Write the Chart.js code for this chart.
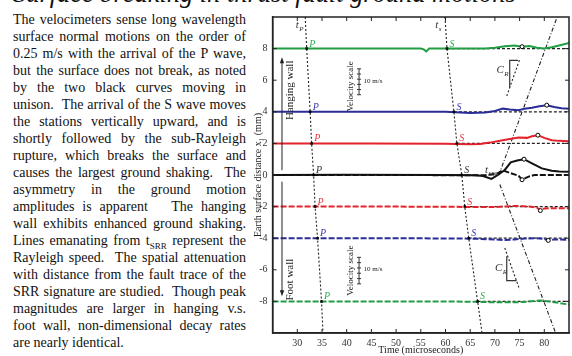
<!DOCTYPE html>
<html>
<head>
<meta charset="utf-8">
<script src="https://cdn.jsdelivr.net/npm/chart.js@4.4.0/dist/chart.umd.min.js"></script>
<style>
html, body { margin: 0; padding: 0; background: #fff; width: 572px; height: 356px; overflow: hidden; position: relative; }
#titulo { position: absolute; left: 13px; top: -19px; font-family: 'Liberation Serif', serif; font-style: italic; font-size: 27px; line-height: 27px; white-space: nowrap; color: #111; }
#texto { position: absolute; left: 13px; top: 11px; width: 233px; font-family: 'Liberation Serif', serif; font-size: 14px; line-height: 17px; color: #111; }
#texto div { height: 17px; text-align: justify; text-align-last: justify; }
#texto div.ultima { text-align-last: left; }
#texto sub { font-size: 9px; line-height: 0; }
#caixa { position: absolute; left: 250px; top: 0; width: 324px; height: 356px; }
</style>
</head>
<body>
<div id="titulo">Surface breaking in thrust fault ground motions</div>
<div id="texto">
<div>The velocimeters sense long wavelength</div>
<div>surface normal motions on the order of</div>
<div>0.25 m/s with the arrival of the P wave,</div>
<div>but the surface does not break, as noted</div>
<div>by the two black curves moving in</div>
<div>unison. &nbsp;The arrival of the S wave moves</div>
<div>the stations vertically upward, and is</div>
<div>shortly followed by the sub-Rayleigh</div>
<div>rupture, which breaks the surface and</div>
<div>causes the largest ground shaking. &nbsp;The</div>
<div>asymmetry in the ground motion</div>
<div>amplitudes is apparent &nbsp; The hanging</div>
<div>wall exhibits enhanced ground shaking.</div>
<div>Lines emanating from t<sub>SRR</sub> represent the</div>
<div>Rayleigh speed. &nbsp;The spatial attenuation</div>
<div>with distance from the fault trace of the</div>
<div>SRR signature are studied. &nbsp;Though peak</div>
<div>magnitudes are larger in hanging v.s.</div>
<div>foot wall, non-dimensional decay rates</div>
<div class="ultima">are nearly identical.</div>
</div>
<div id="caixa"><canvas id="grafico" width="324" height="356"></canvas></div>

<script>
// eixos
const ticksX = [30, 35, 40, 45, 50, 55, 60, 65, 70, 75, 80];
const ticksY = [-8, -6, -4, -2, 0, 2, 4, 6, 8];

// niveis das estacoes (mm) e chegadas das ondas P e S (microsegundos)
const niveis = [8, 4, 2, 0, -2, -4, -8];
const chegadaP = [31.9, 32.6, 32.9, 33.3, 33.6, 34.1, 34.9];
const chegadaS = [60.3, 61.7, 62.3, 63.3, 63.9, 64.7, 66.5];
const extremosP = [[31.6, 10], [35.2, -10]];
const extremosS = [[59.9, 10], [67.4, -10]];

// linhas de Rayleigh a partir de t_SRR
const rayleighSobe = [[70.8, 0], [82.6, 10]];
const rayleighDesce = [[71.0, -0.6], [82.3, -10]];
const inclinacaoSup = [[72.4, 5.0], [75.0, 7.3]];
const inclinacaoInf = [[72.0, -4.62], [75.0, -7.25]];
const trianguloSup = [[73.0, 5.55], [73.0, 7.25], [74.7, 7.25]];
const trianguloInf = [[72.4, -5.15], [72.4, -6.68], [74.4, -6.68]];

// parede suspensa (linhas cheias)
const tVerdeSup = [25, 40, 55, 55.6, 56.1, 56.7, 62, 68, 70, 72, 74, 75.5, 77, 78.5, 80, 81.5, 83, 85];
const yVerdeSup = [8, 8.01, 8, 7.95, 7.82, 8, 8, 8.01, 8.05, 8.15, 8.2, 8.12, 8.17, 8.05, 8.0, 8.08, 8.2, 8.35];
const tAzulSup = [25, 45, 60, 62, 65, 68, 70, 71.6, 73, 74.8, 76, 77.5, 79, 80.5, 82, 83.5, 85];
const yAzulSup = [4, 4.01, 4, 3.97, 3.93, 3.95, 4.05, 4.2, 4.15, 4.1, 4.2, 4.25, 4.35, 4.42, 4.3, 4.22, 4.2];
const tVermelhoSup = [25, 45, 60, 62, 65, 67, 69, 71.6, 73, 74.8, 76.5, 77.5, 78.7, 80, 81.5, 83, 85];
const yVermelhoSup = [2, 2, 1.98, 1.96, 1.95, 1.96, 2.05, 2.2, 2.28, 2.37, 2.35, 2.45, 2.52, 2.35, 2.2, 2.16, 2.14];
const tPretoSup = [25, 40, 60, 66, 67.6, 69.3, 70.6, 72, 73.2, 74.5, 75.9, 77.5, 79.5, 81.5, 83, 85];
const yPretoSup = [0, 0.02, 0, -0.02, -0.06, -0.25, 0, 0.32, 0.8, 0.92, 1.0, 0.74, 0.42, 0.27, 0.22, 0.21];

// parede do pe (linhas tracejadas)
const tPretoInf = [25, 50, 68, 70.6, 71.5, 72.6, 74.8, 75.5, 76.8, 78, 85];
const yPretoInf = [0, 0, -0.02, 0.1, 0.3, 0.18, -0.05, -0.3, -0.1, 0, 0];
const tVermelhoInf = [25, 50, 65, 70, 73, 75, 77, 78.5, 79.2, 80, 82, 85];
const yVermelhoInf = [-2, -2, -2.02, -2.03, -1.97, -1.96, -2.0, -2.05, -2.25, -2.12, -2.1, -2.1];
const tAzulInf = [25, 50, 62, 66, 70, 72, 74, 76, 78, 80, 80.8, 82, 85];
const yAzulInf = [-4, -4, -4.02, -4.03, -4.08, -4.12, -4.08, -4.02, -4.0, -4.05, -4.14, -4.08, -4.1];
const tVerdeInf = [25, 50, 60, 66, 70, 73, 76, 78, 79.5, 81, 83, 85];
const yVerdeInf = [-8, -8, -8.01, -8.02, -8.06, -8.06, -8.04, -7.97, -7.95, -8.0, -8.1, -8.2];

// picos marcados com circulo
const picosT = [75.5, 80.5, 78.7, 75.9, 75.5, 79.2, 80.8];
const picosY = [8.12, 4.42, 2.52, 1.0, -0.3, -2.25, -4.14];

const VERDE = '#1f9e44', AZUL = '#2a2d96', VERMELHO = '#e4222b', PRETO = '#111';
const coresNivel = ['#2fae55', '#3a3cae', '#ee3340', '#333', '#ee3340', '#3a3cae', '#2fae55'];
const FONTE = "'Liberation Serif', serif";

const pares = (ts, ys) => ts.map((t, i) => ({ x: t, y: ys[i] }));
const pontos = lista => lista.map(p => ({ x: p[0], y: p[1] }));

function traco(ts, ys, cor, tracejado) {
    return { data: pares(ts, ys), borderColor: cor, borderWidth: 2, borderDash: tracejado ? [6, 2] : [], pointRadius: 0, showLine: true, tension: 0 };
}
function pontilhado(dados, dash, largura) {
    return { data: dados, borderColor: '#222', borderWidth: largura || 1.1, borderDash: dash, pointRadius: 0, showLine: true, tension: 0 };
}

const linhaP = [pontos([extremosP[0]])[0], ...pares(chegadaP, niveis), pontos([extremosP[1]])[0]];
const linhaS = [pontos([extremosS[0]])[0], ...pares(chegadaS, niveis), pontos([extremosS[1]])[0]];

const datasets = [
    { data: pares(chegadaP, niveis).concat(pares(chegadaS, niveis)), showLine: false, pointStyle: 'rect', pointRadius: 1.8, backgroundColor: '#000', borderColor: '#000', borderWidth: 0 },
    { data: pares(picosT, picosY), showLine: false, pointRadius: 2, backgroundColor: '#fff', borderColor: '#000', borderWidth: 1 },
    traco(tPretoSup, yPretoSup, PRETO, false),
    traco(tPretoInf, yPretoInf, PRETO, true),
    traco(tVerdeSup, yVerdeSup, VERDE, false),
    traco(tAzulSup, yAzulSup, AZUL, false),
    traco(tVermelhoSup, yVermelhoSup, VERMELHO, false),
    traco(tVermelhoInf, yVermelhoInf, VERMELHO, true),
    traco(tAzulInf, yAzulInf, AZUL, true),
    traco(tVerdeInf, yVerdeInf, VERDE, true),
    pontilhado(linhaP, [2, 2]),
    pontilhado(linhaS, [2, 2]),
    pontilhado(pontos(rayleighSobe), [4, 2, 1, 2]),
    pontilhado(pontos(rayleighDesce), [4, 2, 1, 2]),
    pontilhado(pontos(inclinacaoSup), [2, 2]),
    pontilhado(pontos(inclinacaoInf), [2, 2]),
    { data: pontos(trianguloSup), borderColor: '#333', borderWidth: 1.2, pointRadius: 0, showLine: true },
    { data: pontos(trianguloInf), borderColor: '#333', borderWidth: 1.2, pointRadius: 0, showLine: true }
];
// linhas de referencia a partir da chegada S
niveis.forEach((n, i) => {
    if (n === 0) return;
    datasets.push(pontilhado([{ x: chegadaS[i], y: n }, { x: 85, y: n }], [3, 2], 1.2));
});

const anotacoes = {
    id: 'anotacoes',
    afterDatasetsDraw(chart) {
        const { ctx, chartArea: a, scales } = chart;
        const px = v => scales.x.getPixelForValue(v);
        const py = v => scales.y.getPixelForValue(v);
        ctx.save();

        // moldura e ticks para dentro
        ctx.strokeStyle = '#222';
        ctx.lineWidth = 1.5;
        ctx.strokeRect(a.left, a.top, a.right - a.left, a.bottom - a.top);
        ctx.lineWidth = 1;
        ticksX.forEach(v => {
            const x = px(v);
            ctx.beginPath();
            ctx.moveTo(x, a.bottom); ctx.lineTo(x, a.bottom - 4);
            ctx.moveTo(x, a.top); ctx.lineTo(x, a.top + 4);
            ctx.stroke();
        });
        ticksY.forEach(v => {
            const y = py(v);
            ctx.beginPath();
            ctx.moveTo(a.left, y); ctx.lineTo(a.left + 4, y);
            ctx.moveTo(a.right, y); ctx.lineTo(a.right - 4, y);
            ctx.stroke();
        });

        // rotulos P e S
        ctx.font = 'italic 10px ' + FONTE;
        ctx.textBaseline = 'alphabetic';
        ctx.textAlign = 'left';
        niveis.forEach((n, i) => {
            ctx.fillStyle = coresNivel[i];
            ctx.fillText('P', px(chegadaP[i]) + 2.5, py(n) - 2);
            ctx.fillText('S', px(chegadaS[i]) + 2.5, py(n) - 2);
        });

        // t com subscrito
        const comSub = (base, sub, x, y, tam) => {
            ctx.fillStyle = '#333';
            ctx.font = 'italic 11px ' + FONTE;
            ctx.textBaseline = 'middle';
            ctx.fillText(base, px(x), py(y));
            const w = ctx.measureText(base).width;
            ctx.font = 'italic ' + tam + 'px ' + FONTE;
            ctx.fillText(sub, px(x) + w + 0.5, py(y) + 4);
        };
        comSub('t', 'P', 29.7, 9.51, 7);
        comSub('t', 's', 57.9, 9.51, 7);
        comSub('t', 'SRR', 68.0, 0.3, 5.5);
        comSub('C', 'R', 70.3, 6.62, 7);
        comSub('C', 'R', 70.0, -5.88, 7);

        // setas das paredes
        const seta = (x, y0, y1) => {
            const X = px(x), A = py(y0), B = py(y1);
            const d = B < A ? 1 : -1;
            ctx.strokeStyle = '#222';
            ctx.fillStyle = '#222';
            ctx.lineWidth = 1;
            ctx.beginPath(); ctx.moveTo(X, A); ctx.lineTo(X, B + d * 4); ctx.stroke();
            ctx.beginPath(); ctx.moveTo(X, B); ctx.lineTo(X - 2.2, B + d * 6); ctx.lineTo(X + 2.2, B + d * 6); ctx.closePath(); ctx.fill();
        };
        seta(26.9, 0.3, 7.45);
        seta(26.9, -0.42, -7.67);

        // escala de velocidade
        const escala = (x, y0, y1) => {
            const X = px(x), A = py(y0), B = py(y1);
            ctx.strokeStyle = '#333';
            ctx.lineWidth = 1;
            ctx.beginPath(); ctx.moveTo(X, A); ctx.lineTo(X, B);
            for (let k = 0; k <= 5; k++) {
                const y = A + (B - A) * k / 5;
                ctx.moveTo(X - 2, y); ctx.lineTo(X + 2, y);
            }
            ctx.stroke();
        };
        escala(42.5, 5.08, 6.72);
        escala(42.5, -5.21, -6.89);

        const vertical = (txt, x, y, tam) => {
            ctx.save();
            ctx.translate(px(x), py(y));
            ctx.rotate(-Math.PI / 2);
            ctx.font = tam + 'px ' + FONTE;
            ctx.fillStyle = '#222';
            ctx.textAlign = 'center';
            ctx.textBaseline = 'middle';
            ctx.fillText(txt, 0, 0);
            ctx.restore();
        };
        vertical('Hanging wall', 28.6, 5.36, 11);
        vertical('Foot wall', 28.6, -6.62, 11);
        vertical('Velocity scale', 40.8, 5.61, 9);
        vertical('Velocity scale', 40.8, -6.05, 9);

        ctx.font = '7px ' + FONTE;
        ctx.fillStyle = '#222';
        ctx.textAlign = 'left';
        ctx.textBaseline = 'middle';
        ctx.fillText('10 m/s', px(43.4), py(5.92));
        ctx.fillText('10 m/s', px(43.4), py(-5.99));
        ctx.restore();
    }
};

const fonteEixo = { family: FONTE, size: 10 };

new Chart(document.getElementById('grafico').getContext('2d'), {
    type: 'scatter',
    data: { datasets: datasets },
    options: {
        responsive: false,
        animation: false,
        layout: { padding: { top: 17, right: 0, bottom: 0, left: 0 } },
        plugins: { legend: { display: false }, tooltip: { enabled: false } },
        scales: {
            x: {
                type: 'linear', min: 25, max: 85,
                afterBuildTicks: s => { s.ticks = ticksX.map(v => ({ value: v })); },
                afterFit: s => { s.height = 23; },
                grid: { display: false, drawTicks: false },
                border: { display: true, color: '#222', width: 1.5 },
                ticks: { padding: 4, font: fonteEixo, color: '#333', maxRotation: 0, autoSkip: false },
                title: { display: true, text: 'Time (microseconds)', font: fonteEixo, color: '#222', padding: 0 }
            },
            y: {
                type: 'linear', min: -10, max: 10,
                afterBuildTicks: s => { s.ticks = ticksY.map(v => ({ value: v })); },
                afterFit: s => { s.width = 22.6; },
                grid: { display: false, drawTicks: false },
                border: { display: true, color: '#222', width: 1.5 },
                ticks: { padding: 5, font: fonteEixo, color: '#333', autoSkip: false },
                title: { display: true, text: 'Earth surface distance x\u2081 (mm)', font: fonteEixo, color: '#222', padding: { top: 2, bottom: 0 } }
            }
        }
    },
    plugins: [anotacoes]
});

// ajusta o titulo a largura do original
const titulo = document.getElementById('titulo');
const largura = titulo.getBoundingClientRect().width;
const tam = 27 * 503 / largura;
titulo.style.fontSize = tam + 'px';
titulo.style.lineHeight = tam + 'px';
titulo.style.top = (2.5 - 0.8375 * tam) + 'px';
</script>
</body>
</html>
